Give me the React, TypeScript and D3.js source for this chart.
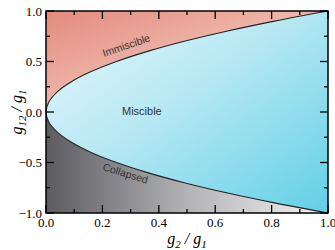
import React from "react";
import * as d3 from "d3";

// phase boundary read along g12/g1, with the matching g2/g1 position
const boundaryG12 = [1.0, 0.9, 0.8, 0.7, 0.6, 0.5, 0.4, 0.3, 0.2, 0.1, 0.0, -0.1, -0.2, -0.3, -0.4, -0.5, -0.6, -0.7, -0.8, -0.9, -1.0];
const boundaryG2 = [1.0, 0.81, 0.64, 0.49, 0.36, 0.25, 0.16, 0.09, 0.04, 0.01, 0.0, 0.01, 0.04, 0.09, 0.16, 0.25, 0.36, 0.49, 0.64, 0.81, 1.0];

const xTicks = [0, 0.2, 0.4, 0.6, 0.8, 1.0];
const yTicks = [-1.0, -0.5, 0.0, 0.5, 1.0];
const xMinor = [0.1, 0.3, 0.5, 0.7, 0.9];
const yMinor = [-0.75, -0.25, 0.25, 0.75];

const W = 335;
const H = 250;
const margin = { left: 46, right: 7, top: 11, bottom: 37 };

const serif = { fontFamily: "Liberation Serif, Times New Roman, Times, serif" };
const sans = { fontFamily: "Liberation Sans, Arial, Helvetica, sans-serif" };

const App = () => {
  const x = d3.scaleLinear().domain([0, 1]).range([margin.left, W - margin.right]);
  const y = d3.scaleLinear().domain([-1, 1]).range([H - margin.bottom, margin.top]);

  const pts: [number, number][] = boundaryG12.map((g, i) => [boundaryG2[i], g]);

  const boundary = d3
    .line<[number, number]>()
    .x((d) => x(d[0]))
    .y((d) => y(d[1]))
    .curve(d3.curveCatmullRom.alpha(0.5));

  const upper = pts.filter((d) => d[1] >= 0);
  const lower = pts.filter((d) => d[1] <= 0);

  // region above the upper branch
  const immPath = boundary(upper)! + `L${x(0)},${y(1)}Z`;
  // region below the lower branch
  const colPath = boundary(lower)! + `L${x(0)},${y(-1)}Z`;
  // inside the parabola, closed along the right edge
  const misPath = boundary(pts)! + "Z";

  const fmt = d3.format(".1f");
  const x0 = x(0), x1 = x(1), yTop = y(1), yBot = y(-1);

  return (
    <svg width={W} height={H} style={{ position: "absolute", left: 0, top: 0 }}>
      <defs>
        <linearGradient id="gImm" x1="0" y1="0" x2="1" y2="1">
          <stop offset="0" stopColor="#e38a7d" />
          <stop offset="0.5" stopColor="#f0b8ad" />
          <stop offset="1" stopColor="#fbe4de" />
        </linearGradient>
        <linearGradient id="gMis" x1="0" y1="0" x2="1" y2="1">
          <stop offset="0" stopColor="#eaf8fc" />
          <stop offset="0.45" stopColor="#b6e8f3" />
          <stop offset="1" stopColor="#62cfe6" />
        </linearGradient>
        <linearGradient id="gCol" x1="0" y1="0.5" x2="1" y2="0.5">
          <stop offset="0" stopColor="#5c5b60" />
          <stop offset="0.5" stopColor="#b3b2b5" />
          <stop offset="1" stopColor="#f4f4f4" />
        </linearGradient>
      </defs>

      <path d={immPath} fill="url(#gImm)" />
      <path d={colPath} fill="url(#gCol)" />
      <path d={misPath} fill="url(#gMis)" />
      <path d={boundary(pts)!} fill="none" stroke="#222" strokeWidth={1.1} />

      <text x={104} y={57} style={sans} fontSize={10.5} fill="#333"
        transform="rotate(-19 104 57)">Immiscible</text>
      <text x={122} y={115} style={sans} fontSize={11} fill="#333">Miscible</text>
      <text x={102} y={170} style={sans} fontSize={10.5} fill="#333"
        transform="rotate(17 102 170)">Collapsed</text>

      {/* ticks on all four sides, pointing inward */}
      {xTicks.map((t) => (
        <g key={"xt" + t}>
          <line x1={x(t)} x2={x(t)} y1={yBot} y2={yBot - 8} stroke="#000" strokeWidth={1.3} />
          <line x1={x(t)} x2={x(t)} y1={yTop} y2={yTop + 8} stroke="#000" strokeWidth={1.3} />
          <text x={x(t)} y={yBot + 14} textAnchor="middle" style={serif} fontSize={13}>{fmt(t)}</text>
        </g>
      ))}
      {xMinor.map((t) => (
        <g key={"xm" + t}>
          <line x1={x(t)} x2={x(t)} y1={yBot} y2={yBot - 4} stroke="#000" strokeWidth={1.3} />
          <line x1={x(t)} x2={x(t)} y1={yTop} y2={yTop + 4} stroke="#000" strokeWidth={1.3} />
        </g>
      ))}
      {yTicks.map((t) => (
        <g key={"yt" + t}>
          <line x1={x0} x2={x0 + 8} y1={y(t)} y2={y(t)} stroke="#000" strokeWidth={1.3} />
          <line x1={x1} x2={x1 - 8} y1={y(t)} y2={y(t)} stroke="#000" strokeWidth={1.3} />
          <text x={x0 - 4} y={y(t) + 4.5} textAnchor="end" style={serif} fontSize={13}>{fmt(t)}</text>
        </g>
      ))}
      {yMinor.map((t) => (
        <g key={"ym" + t}>
          <line x1={x0} x2={x0 + 4} y1={y(t)} y2={y(t)} stroke="#000" strokeWidth={1.3} />
          <line x1={x1} x2={x1 - 4} y1={y(t)} y2={y(t)} stroke="#000" strokeWidth={1.3} />
        </g>
      ))}

      <rect x={x0} y={yTop} width={x1 - x0} height={yBot - yTop} fill="none" stroke="#000" strokeWidth={1.5} />

      {/* axis titles */}
      <text x={187} y={244} textAnchor="middle" style={serif} fontStyle="italic" fontSize={16}>
        g<tspan fontSize={11} dy={4}>2</tspan><tspan dy={-4}> / g</tspan><tspan fontSize={11} dy={4}>1</tspan>
      </text>
      <text transform={`translate(22 ${(yTop + yBot) / 2}) rotate(-90)`} textAnchor="middle"
        style={serif} fontStyle="italic" fontSize={16}>
        g<tspan fontSize={11} dy={4}>12</tspan><tspan dy={-4}> / g</tspan><tspan fontSize={11} dy={4}>1</tspan>
      </text>
    </svg>
  );
};

export default App;
